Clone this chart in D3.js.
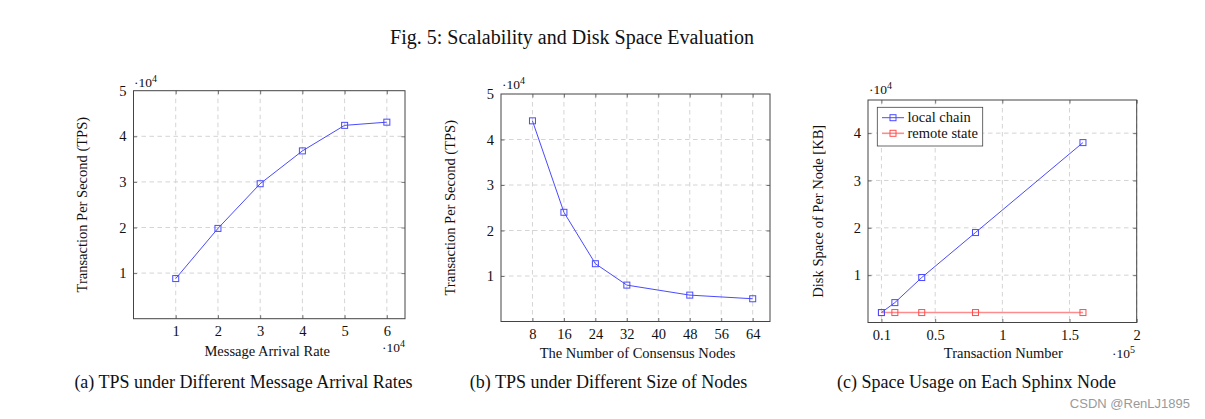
<!DOCTYPE html>
<html><head><meta charset="utf-8">
<script src="https://cdn.jsdelivr.net/npm/d3@7"></script>
<style>body{margin:0;background:#fff}svg{display:block}text{font-family:"Liberation Serif","Times New Roman",serif;fill:#111}</style>
</head><body><svg id="c" width="1205" height="419"></svg>
<script>
// Panel (a)
const arrivalRates = [1, 2, 3, 4, 5, 6];            // ×10^4
const tpsByRate = [0.88, 1.98, 2.96, 3.68, 4.24, 4.31]; // ×10^4
const rateTicks = [1, 2, 3, 4, 5, 6];
// Panel (b)
const nodeCounts = [8, 16, 24, 32, 48, 64];
const tpsByNodes = [4.41, 2.40, 1.27, 0.80, 0.58, 0.50]; // ×10^4
const nodeTicks = [8, 16, 24, 32, 40, 48, 56, 64];
// Panel (c)
const txNumbers = [0.1, 0.2, 0.4, 0.8, 1.6];       // ×10^5
const localChain = [0.21, 0.42, 0.95, 1.90, 3.80]; // ×10^4 KB
const remoteState = [0.21, 0.21, 0.21, 0.21, 0.21];
const txTicks = [0.1, 0.5, 1, 1.5, 2];
const tpsTicks = [1, 2, 3, 4, 5];
const diskTicks = [1, 2, 3, 4];

const svg = d3.select("#c");
const BLUE = "#4a4aff", RED = "#ff4d4d";
const FS = "14.5px";

svg.append("text").attr("x", 572).attr("y", 44).attr("text-anchor", "middle")
  .style("font-size", "20px").text("Fig. 5: Scalability and Disk Space Evaluation");

function panel(o) {
  const x = d3.scaleLinear().domain(o.xd).range([o.l, o.r]);
  const y = d3.scaleLinear().domain(o.yd).range([o.b, o.t]);
  const g = svg.append("g");
  g.selectAll(".gx").data(o.xt).join("line")
    .attr("x1", d => x(d)).attr("x2", d => x(d)).attr("y1", o.t).attr("y2", o.b)
    .attr("stroke", "#cfcfcf").attr("stroke-dasharray", "4.5,3.5").attr("stroke-width", 0.9);
  g.selectAll(".gy").data(o.yt).join("line")
    .attr("y1", d => y(d)).attr("y2", d => y(d)).attr("x1", o.l).attr("x2", o.r)
    .attr("stroke", "#cfcfcf").attr("stroke-dasharray", "4.5,3.5").attr("stroke-width", 0.9);
  const fmt = d => String(d);
  const ax = g.append("g").attr("transform", `translate(0,${o.b})`)
    .call(d3.axisBottom(x).tickValues(o.xt).tickSize(-3.5).tickPadding(7.5).tickFormat(fmt));
  const axT = g.append("g").attr("transform", `translate(0,${o.t})`)
    .call(d3.axisTop(x).tickValues(o.xt).tickSize(-3.5).tickFormat(""));
  const ay = g.append("g").attr("transform", `translate(${o.l},0)`)
    .call(d3.axisLeft(y).tickValues(o.yLab).tickSize(0).tickPadding(7).tickFormat(fmt));
  const ayT = g.append("g").attr("transform", `translate(${o.l},0)`)
    .call(d3.axisLeft(y).tickValues(o.yt).tickSize(-3.5).tickFormat(""));
  const ayR = g.append("g").attr("transform", `translate(${o.r},0)`)
    .call(d3.axisRight(y).tickValues(o.yt).tickSize(-3.5).tickFormat(""));
  [ax, axT, ay, ayT, ayR].forEach(a => {
    a.select(".domain").remove();
    a.selectAll("line").attr("stroke", "#555").attr("stroke-width", 0.8);
    a.selectAll("text").style("font-size", FS).attr("fill", "#111")
      .style("font-family", '"Liberation Serif","Times New Roman",serif');
  });
  g.append("rect").attr("x", o.l).attr("y", o.t).attr("width", o.r - o.l).attr("height", o.b - o.t)
    .attr("fill", "none").attr("stroke", "#444").attr("stroke-width", 1);
  o.series.forEach(s => {
    const pts = s.xs.map((v, i) => [x(v), y(s.ys[i])]);
    g.append("path").attr("d", d3.line()(pts)).attr("fill", "none").attr("stroke", s.lc || s.c).attr("stroke-width", s.w || 1);
    g.selectAll(null).data(pts).join("rect")
      .attr("x", d => d[0] - 3).attr("y", d => d[1] - 3).attr("width", 6).attr("height", 6)
      .attr("fill", "none").attr("stroke", s.c).attr("stroke-width", 1);
  });
  svg.append("text").attr("transform", `translate(${o.yl},${(o.t + o.b) / 2}) rotate(-90)`)
    .attr("text-anchor", "middle").style("font-size", FS).text(o.ylab);
  svg.append("text").attr("x", (o.l + o.r) / 2 + (o.xlOff || 0)).attr("y", o.xly)
    .attr("text-anchor", "middle").style("font-size", FS).text(o.xlab);
  o.mult.forEach(m => {
    const t = svg.append("text").attr("x", m.x).attr("y", m.y).style("font-size", "13.5px");
    t.append("tspan").text("·10");
    t.append("tspan").attr("dy", -5).style("font-size", "10px").text(m.e);
  });
  return { x, y, g };
}

panel({ l: 133.5, r: 405, t: 90.7, b: 318.7, xd: [0, 6.43], yd: [0, 5], xt: rateTicks, yt: [1, 2, 3, 4], yLab: tpsTicks,
  series: [{ xs: arrivalRates, ys: tpsByRate, c: BLUE }],
  ylab: "Transaction Per Second (TPS)", yl: 87, xlab: "Message Arrival Rate", xly: 356, xlOff: -2,
  mult: [{ x: 134, y: 87, e: "4" }, { x: 382, y: 352, e: "4" }] });

panel({ l: 501, r: 770, t: 94, b: 321.5, xd: [0, 68.4], yd: [0, 5], xt: nodeTicks, yt: [1, 2, 3, 4], yLab: tpsTicks,
  series: [{ xs: nodeCounts, ys: tpsByNodes, c: BLUE }],
  ylab: "Transaction Per Second (TPS)", yl: 455, xlab: "The Number of Consensus Nodes", xly: 358, xlOff: 2,
  mult: [{ x: 502, y: 89, e: "4" }] });

panel({ l: 868, r: 1136.7, t: 100, b: 322.5, xd: [0, 2], yd: [0, 4.7], xt: txTicks, yt: diskTicks, yLab: diskTicks,
  series: [{ xs: txNumbers, ys: remoteState, c: RED, lc: "#ff8c8c", w: 1.6 }, { xs: txNumbers, ys: localChain, c: BLUE }],
  ylab: "Disk Space of Per Node [KB]", yl: 823, xlab: "Transaction Number", xly: 358, xlOff: 1,
  mult: [{ x: 869, y: 94, e: "4" }, { x: 1112, y: 358, e: "5" }] });

const lg = svg.append("g");
lg.append("rect").attr("x", 877.3).attr("y", 107.3).attr("width", 105.4).attr("height", 38.7)
  .attr("fill", "#fff").attr("stroke", "#444").attr("stroke-width", 0.8);
[["local chain", BLUE, BLUE, 1, 117.7], ["remote state", RED, "#ff8c8c", 1.6, 133.3]].forEach(([t, c, lc, w, yy]) => {
  lg.append("line").attr("x1", 882).attr("x2", 904).attr("y1", yy).attr("y2", yy).attr("stroke", lc).attr("stroke-width", w);
  lg.append("rect").attr("x", 890).attr("y", yy - 3).attr("width", 6).attr("height", 6).attr("fill", "none").attr("stroke", c);
  lg.append("text").attr("x", 907.5).attr("y", yy + 4.5).style("font-size", FS).text(t);
});

[["(a) TPS under Different Message Arrival Rates", 243.5], ["(b) TPS under Different Size of Nodes", 608.5], ["(c) Space Usage on Each Sphinx Node", 976.5]]
  .forEach(([t, cx]) => svg.append("text").attr("x", cx).attr("y", 388).attr("text-anchor", "middle").style("font-size", "18px").text(t));

svg.append("text").attr("x", 1190).attr("y", 408).attr("text-anchor", "end")
  .style("font-family", '"Liberation Sans",Arial,sans-serif').style("font-size", "13px").style("fill", "#9a9a9a").text("CSDN @RenLJ1895");
</script></body></html>
